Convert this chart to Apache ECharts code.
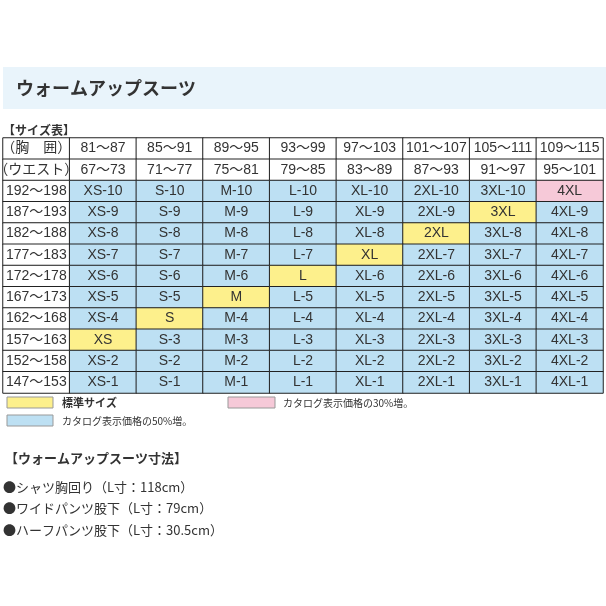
<!DOCTYPE html><html><head><meta charset="utf-8">
<script src="https://cdn.jsdelivr.net/npm/echarts@6/dist/echarts.min.js"></script>
<style>html,body{margin:0;padding:0;background:#fff}#c{width:606px;height:606px}</style></head><body><div id="c"></div><script>
const chest=['81～87','85～91','89～95','93～99','97～103','101～107','105～111','109～115'];
const waist=['67～73','71～77','75～81','79～85','83～89','87～93','91～97','95～101'];
const heights=['192～198','187～193','182～188','177～183','172～178','167～173','162～168','157～163','152～158','147～153'];
const heightNo=[10,9,8,7,6,5,4,3,2,1];
const sizes=['XS','S','M','L','XL','2XL','3XL','4XL'];
const standardNo=[3,4,5,6,7,8,9,10];
const F='"Noto Sans CJK JP","Noto Sans",sans-serif';
const FT='"Liberation Sans","Noto Sans CJK JP",sans-serif';
const YEL='#fdf08c',BLU='#bde0f3',PNK='#f6c9d8';
const rows=['（胸　囲）','（ウエスト）'].concat(heights);
const data=[];
rows.forEach((r,i)=>{
  data.push({value:[0,i,0],label:{formatter:r},itemStyle:{color:'#fff'}});
  for(let j=0;j<8;j++){
    let txt,col='#fff';
    if(i===0)txt=chest[j];else if(i===1)txt=waist[j];
    else{const n=heightNo[i-2];const std=n===standardNo[j];txt=std?sizes[j]:sizes[j]+'-'+n;col=std?(j===7?PNK:YEL):BLU;}
    data.push({value:[j+1,i,0],label:{formatter:txt},itemStyle:{color:col}});
  }
});
const ch=echarts.init(document.getElementById('c'));
ch.setOption({animation:false,
grid:{left:3,right:3,top:138,bottom:213},
xAxis:{type:'category',data:[0,1,2,3,4,5,6,7,8],show:false},
yAxis:{type:'category',data:rows.map((r,i)=>i),inverse:true,show:false},
series:[{type:'heatmap',data:data,label:{show:true,fontFamily:FT,fontSize:14,color:'#333'},itemStyle:{borderColor:'#222',borderWidth:1}}],
graphic:[
{type:'rect',shape:{x:3,y:67,width:603,height:42},style:{fill:'#e9f4fb'}},
{type:'text',x:16,y:88,style:{text:'ウォームアップスーツ',font:'bold 18px '+F,fill:'#333',textVerticalAlign:'middle'}},
{type:'text',x:3,y:130,style:{text:'【サイズ表】',font:'bold 12px '+F,fill:'#333',textVerticalAlign:'middle'}},
{type:'rect',shape:{x:7,y:397,width:46,height:11},style:{fill:YEL,stroke:'#999'}},
{type:'text',x:62,y:403,style:{text:'標準サイズ',font:'bold 11px '+F,fill:'#333',textVerticalAlign:'middle'}},
{type:'rect',shape:{x:228,y:397,width:47,height:11},style:{fill:PNK,stroke:'#999'}},
{type:'text',x:283,y:403,style:{text:'カタログ表示価格の30%増。',font:'10px '+F,fill:'#333',textVerticalAlign:'middle'}},
{type:'rect',shape:{x:7,y:415,width:46,height:11},style:{fill:BLU,stroke:'#999'}},
{type:'text',x:62,y:421,style:{text:'カタログ表示価格の50%増。',font:'10px '+F,fill:'#333',textVerticalAlign:'middle'}},
{type:'text',x:5,y:458,style:{text:'【ウォームアップスーツ寸法】',font:'bold 13px '+F,fill:'#333',textVerticalAlign:'middle'}},
{type:'text',x:3,y:487,style:{text:'●シャツ胸回り（L寸：118cm）',font:'13px '+F,fill:'#333',textVerticalAlign:'middle'}},
{type:'text',x:3,y:508,style:{text:'●ワイドパンツ股下（L寸：79cm）',font:'13px '+F,fill:'#333',textVerticalAlign:'middle'}},
{type:'text',x:3,y:530,style:{text:'●ハーフパンツ股下（L寸：30.5cm）',font:'13px '+F,fill:'#333',textVerticalAlign:'middle'}}
]});
</script></body></html>
